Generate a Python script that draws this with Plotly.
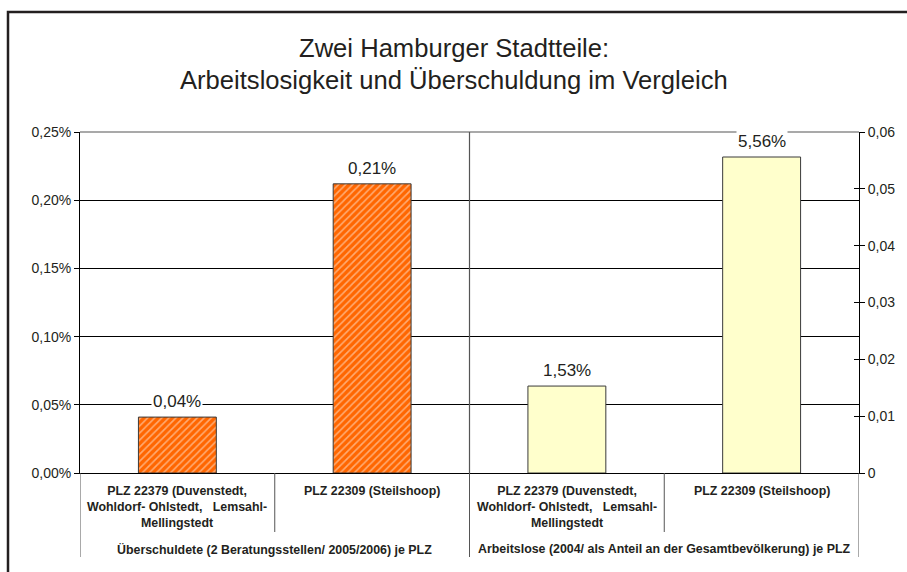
import plotly.graph_objects as go

# ---- data ----
categories = [
    "PLZ 22379 (Duvenstedt,<br>Wohldorf-\u00a0Ohlstedt,\u00a0\u00a0\u00a0Lemsahl-<br>Mellingstedt",
    "PLZ 22309 (Steilshoop)",
    "PLZ 22379 (Duvenstedt,<br>Wohldorf-\u00a0Ohlstedt,\u00a0\u00a0\u00a0Lemsahl-<br>Mellingstedt",
    "PLZ 22309 (Steilshoop)",
]
groups = [
    "Überschuldete (2 Beratungsstellen/ 2005/2006) je PLZ",
    "Arbeitslose (2004/ als Anteil an der Gesamtbevölkerung) je PLZ",
]
debt_values = [0.00041, 0.00212]        # left axis
unemp_values = [0.0153, 0.0556]         # right axis
left_ticks = [0, 0.0005, 0.001, 0.0015, 0.002, 0.0025]
right_ticks = [0, 0.01, 0.02, 0.03, 0.04, 0.05, 0.06]
title_lines = ["Zwei Hamburger Stadtteile:", "Arbeitslosigkeit und Überschuldung im Vergleich"]

W, H = 907, 572
L, R, T, B = 80, 48, 132, 99
pw, ph = W - L - R, H - T - B

def px_x(p):
    return (p - L) / pw

def px_y(p):
    return (H - B - p) / ph

def fmt(v):
    return f"{v*100:.2f}%".replace(".", ",")

TXT = "#231f20"
FONT = "Liberation Sans, Arial, sans-serif"

fig = go.Figure()
xi_left = [0, 1]
xi_right = [2, 3]
fig.add_trace(go.Bar(
    x=xi_left, y=debt_values, yaxis="y", width=0.4,
    marker=dict(color="#FF6600", line=dict(color="#3a3a3a", width=1),
                pattern=dict(shape="/", fgcolor="#FFF0E4", bgcolor="#FF6600",
                             size=5, solidity=0.33)),
    showlegend=False, hoverinfo="skip"))
fig.add_trace(go.Bar(
    x=xi_right, y=unemp_values, yaxis="y2", width=0.4,
    marker=dict(color="#FFFFCC", line=dict(color="#3a3a3a", width=1)),
    showlegend=False, hoverinfo="skip"))
# invisible trace for crossing tick marks on the right axis
fig.add_trace(go.Scatter(x=[0], y=[0], yaxis="y3", mode="markers",
                         marker=dict(opacity=0), showlegend=False, hoverinfo="skip"))

annotations = []
for t, py in zip(title_lines, [48, 80]):
    annotations.append(dict(x=px_x(W / 2), y=px_y(py), xref="paper", yref="paper", text=t,
                            showarrow=False, yanchor="middle", xanchor="center",
                            font=dict(size=25.6, color=TXT, family=FONT)))
for xi, v in zip(xi_left, debt_values):
    annotations.append(dict(x=xi, y=v, xref="x", yref="y", text=fmt(v), showarrow=False,
                            yanchor="bottom", yshift=4, bgcolor="white",
                            font=dict(size=17, color=TXT, family=FONT)))
for xi, v in zip(xi_right, unemp_values):
    annotations.append(dict(x=xi, y=v, xref="x", yref="y2", text=fmt(v), showarrow=False,
                            yanchor="bottom", yshift=4, bgcolor="white",
                            font=dict(size=17, color=TXT, family=FONT)))
for i, c in enumerate(categories):
    annotations.append(dict(x=i, y=px_y(482), xref="x", yref="paper", text="<b>" + c + "</b>",
                            showarrow=False, yanchor="top", align="center",
                            font=dict(size=12.4, color=TXT, family=FONT)))
for gi, g in enumerate(groups):
    annotations.append(dict(x=gi * 2 + 0.5, y=px_y(549), xref="x", yref="paper",
                            text="<b>" + g + "</b>", showarrow=False, yanchor="middle",
                            font=dict(size=12.4, color=TXT, family=FONT)))

shapes = []
# outer frame (cropped at right & bottom)
shapes.append(dict(type="rect", xref="paper", yref="paper",
                   x0=px_x(8), x1=px_x(915), y0=px_y(590), y1=px_y(12),
                   line=dict(color=TXT, width=2.5), layer="above"))
# grey top border of plot area
shapes.append(dict(type="line", xref="paper", yref="paper", x0=0, x1=1, y0=1, y1=1,
                   line=dict(color="#8c8c8c", width=1.5), layer="above"))
# category dividers below the axis
for b in [-0.5, 0.5, 1.5, 2.5, 3.5]:
    long = b in (-0.5, 1.5, 3.5)
    shapes.append(dict(type="line", xref="x", yref="paper", x0=b, x1=b,
                       y0=0, y1=px_y(557 if long else 532),
                       line=dict(color="#555555", width=1)))
# middle group divider through the plot
shapes.append(dict(type="line", xref="x", yref="paper", x0=1.5, x1=1.5, y0=0, y1=1,
                   line=dict(color="#555555", width=1.2)))

fig.update_layout(
    width=W, height=H,
    margin=dict(l=L, r=R, t=T, b=B, autoexpand=False),
    paper_bgcolor="white", plot_bgcolor="white",
    separators=", ",
    barmode="overlay",
    font=dict(family=FONT, color=TXT),
    xaxis=dict(range=[-0.5, 3.5], showticklabels=False, showgrid=False, zeroline=False,
               showline=True, linecolor="black", linewidth=1, ticks=""),
    yaxis=dict(range=[0, 0.0025], tickvals=left_ticks, tickformat=".2%",
               showgrid=True, gridcolor="black", gridwidth=1, zeroline=False,
               showline=True, linecolor="black", linewidth=1,
               ticks="outside", ticklen=5, tickcolor="black",
               tickfont=dict(size=14, color=TXT, family=FONT)),
    yaxis2=dict(range=[0, 0.06], tickvals=right_ticks, overlaying="y", side="right",
                showgrid=False, zeroline=False, showline=True, linecolor="black",
                linewidth=1, ticks="outside", ticklen=5, tickcolor="black",
                tickfont=dict(size=14, color=TXT, family=FONT)),
    yaxis3=dict(range=[0, 0.06], tickvals=right_ticks, overlaying="y", side="right",
                showgrid=False, zeroline=False, showline=False, showticklabels=False,
                ticks="inside", ticklen=5, tickcolor="black"),
    annotations=annotations,
    shapes=shapes,
)

fig.write_html("out.html", config={"displayModeBar": False},
               post_script="document.body.style.margin='0';document.body.style.overflow='hidden';")
